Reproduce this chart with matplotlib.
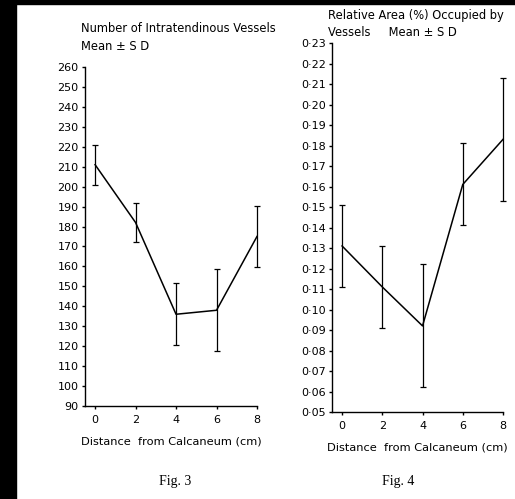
import matplotlib
matplotlib.use("Agg")
import matplotlib.pyplot as plt
from matplotlib.patches import Rectangle

# Fig. 3: number of intratendinous vessels (mean +/- SD)
distance = [0, 2, 4, 6, 8]
vessels_mean = [211, 182, 136, 138, 175]
vessels_sd = [10, 10, 15.5, 20.5, 15.5]

# Fig. 4: relative area (%) occupied by vessels (mean +/- SD)
area_mean = [0.131, 0.111, 0.092, 0.161, 0.183]
area_sd = [0.020, 0.020, 0.030, 0.020, 0.030]

vessel_ticks = list(range(90, 261, 10))
area_ticks = [round(0.05 + 0.01 * i, 2) for i in range(19)]
area_labels = ["0\u00b7%02d" % round(t * 100) for t in area_ticks]

plt.rcParams["font.family"] = "DejaVu Sans"
fig = plt.figure(figsize=(5.15, 4.99), dpi=100)

# black scan border (left and top)
fig.patches.append(Rectangle((0, 0), 16 / 515, 1, transform=fig.transFigure,
                             color="black", zorder=10))
fig.patches.append(Rectangle((0, 1 - 4 / 499), 1, 4 / 499, transform=fig.transFigure,
                             color="black", zorder=10))


def style(ax):
    for s in ("top", "right"):
        ax.spines[s].set_visible(False)
    for s in ("left", "bottom"):
        ax.spines[s].set_linewidth(1.0)
    ax.tick_params(direction="out", length=2.5, width=1.0, labelsize=8, pad=2)
    ax.tick_params(axis="x", pad=4)
    ax.set_xlim(-0.5, 8)
    ax.set_xticks(distance)
    ax.set_xlabel("Distance  from Calcaneum (cm)", fontsize=8.2, labelpad=8)


def draw(ax, mean, sd):
    eb = ax.errorbar(distance, mean, yerr=sd, color="black", lw=1.1,
                     elinewidth=0.9, capsize=2.5, capthick=0.9)
    for art in eb.get_children():
        art.set_clip_on(False)


ax1 = fig.add_axes([0.165, 0.1864, 0.334, 0.6794])
draw(ax1, vessels_mean, vessels_sd)
ax1.set_ylim(90, 260)
ax1.set_yticks(vessel_ticks)
style(ax1)
fig.text(81 / 515, 1 - 29 / 499, "Number of Intratendinous Vessels", fontsize=8.3, va="center")
fig.text(81 / 515, 1 - 46 / 499, "Mean \u00b1 S D", fontsize=8.3, va="center")
fig.text(175 / 515, 1 - 482 / 499, "Fig. 3", fontsize=10, family="Liberation Serif",
         ha="center", va="center")

ax2 = fig.add_axes([0.6447, 0.1743, 0.332, 0.7395])
draw(ax2, area_mean, area_sd)
ax2.set_ylim(0.05, 0.23)
ax2.set_yticks(area_ticks)
ax2.set_yticklabels(area_labels)
style(ax2)
fig.text(328 / 515, 1 - 15 / 499, "Relative Area (%) Occupied by", fontsize=8.3, va="center")
fig.text(328 / 515, 1 - 33 / 499, "Vessels     Mean \u00b1 S D", fontsize=8.3, va="center")
fig.text(398 / 515, 1 - 481 / 499, "Fig. 4", fontsize=10, family="Liberation Serif",
         ha="center", va="center")

fig.savefig("out.png", dpi=100)
